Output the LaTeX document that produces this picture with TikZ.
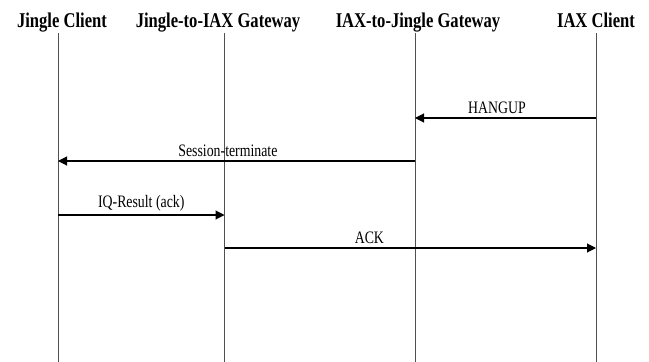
\documentclass[tikz,border=0pt]{standalone}
\usepackage{fontspec}
\setmainfont{Liberation Serif}[FakeStretch=0.79]
\usetikzlibrary{arrows.meta}
\definecolor{lifegray}{HTML}{505050}
\begin{document}
\begin{tikzpicture}[x=1pt,y=-1pt,
  actor/.style={anchor=base,inner sep=0pt,font=\fontsize{21}{21}\selectfont\bfseries},
  lifeline/.style={draw=lifegray,line width=0.9pt},
  msg/.style={draw=black,line width=1.1pt,-{Triangle[length=9pt,width=9pt]}},
  msglabel/.style={above=3.5pt,inner sep=0pt,font=\fontsize{17.5}{17.5}\selectfont}]
  \useasboundingbox (0,0) rectangle (649,362);
  % participants
  \node[actor] (jc)  at (62,27)  {Jingle Client};
  \node[actor] (jig) at (218,27) {Jingle-to-IAX Gateway};
  \node[actor] (ijg) at (418,27) {IAX-to-Jingle Gateway};
  \node[actor] (ic)  at (596,27) {IAX Client};
  % lifelines
  \foreach \n/\x in {jc/58,jig/224.5,ijg/415,ic/596}{
    \coordinate (\n-top) at (\x,33);
    \coordinate (\n-bot) at (\x,362);
    \draw[lifeline] (\n-top) -- (\n-bot);
  }
  % message end points on the lifelines
  \coordinate (m1s) at (ic-top |- 0,118);   \coordinate (m1e) at (ijg-top |- 0,118);
  \coordinate (m2s) at (ijg-top |- 0,161);  \coordinate (m2e) at (jc-top |- 0,161);
  \coordinate (m3s) at (jc-top |- 0,215);   \coordinate (m3e) at (jig-top |- 0,215);
  \coordinate (m4s) at (jig-top |- 0,248);  \coordinate (m4e) at (ic-top |- 0,248);
  % messages
  \draw[msg] (m1s) -- node[msglabel,pos=0.547] (l1) {HANGUP} (m1e);
  \draw[msg] (m2s) -- node[msglabel,pos=0.524] (l2) {Session-terminate} (m2e);
  \draw[msg] (m3s) -- node[msglabel,pos=0.5] (l3) {IQ-Result (ack)} (m3e);
  \draw[msg] (m4s) -- node[msglabel,pos=0.39] (l4) {ACK} (m4e);
\end{tikzpicture}
\end{document}
